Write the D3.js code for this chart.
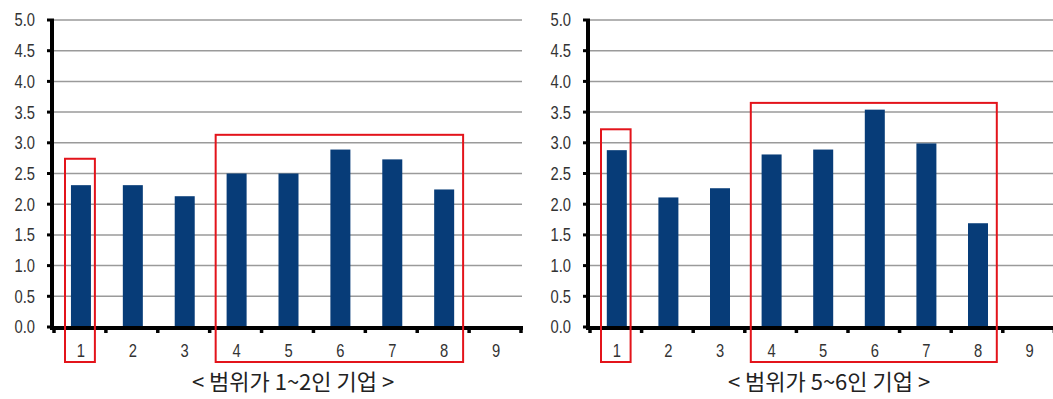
<!DOCTYPE html>
<html>
<head>
<meta charset="utf-8">
<script src="https://cdn.jsdelivr.net/npm/d3@7"></script>
<style>
  body { margin: 0; background: #fff; }
  svg { display: block; }
  .tick-label { font-family: "Liberation Sans", Arial, sans-serif; font-size: 18px; fill: #333; }
  .title { font-family: "Noto Sans CJK KR", sans-serif; font-size: 22px; fill: #222; }
</style>
</head>
<body>
<svg id="chart" width="1053" height="399"></svg>
<script>
// categories on the x axis (1..9)
const categories = ['1', '2', '3', '4', '5', '6', '7', '8', '9'];
const yTicks = [0, 0.5, 1, 1.5, 2, 2.5, 3, 3.5, 4, 4.5, 5];

// 범위가 1~2인 기업
const valuesA = [2.31, 2.31, 2.13, 2.50, 2.50, 2.89, 2.73, 2.24, 0];
// 범위가 5~6인 기업
const valuesB = [2.88, 2.11, 2.26, 2.81, 2.89, 3.54, 2.99, 1.69, 0];

const titleA = '< 범위가 1~2인 기업 >';
const titleB = '< 범위가 5~6인 기업 >';

// red highlight boxes: first / last category and upper value
const boxesA = [{ from: '1', to: '1', top: 2.74 }, { from: '4', to: '8', top: 3.13 }];
const boxesB = [{ from: '1', to: '1', top: 3.22 }, { from: '4', to: '8', top: 3.65 }];

const svg = d3.select('#chart');
const narrow = 0.82; // squeeze labels like the narrow font in the original

function drawPanel(x0, width, values, boxes, title) {
  const top = 20, bottom = 327;
  const g = svg.append('g');

  const x = d3.scaleBand().domain(categories).range([x0, x0 + width]).paddingInner(0).paddingOuter(0);
  const y = d3.scaleLinear().domain([0, 5]).range([bottom, top]);
  const bw = x.bandwidth();
  const barW = 20;

  // gridlines
  g.selectAll('line.grid')
    .data(yTicks.filter(d => d > 0))
    .enter()
    .append('line')
    .attr('x1', x0)
    .attr('x2', x0 + width + 1)
    .attr('y1', d => y(d))
    .attr('y2', d => y(d))
    .attr('stroke', '#9a9a9a')
    .attr('stroke-width', 1.5);

  // bars
  g.selectAll('rect.bar')
    .data(values)
    .enter()
    .append('rect')
    .attr('x', (d, i) => x(categories[i]) + bw / 2 - barW / 2 + 1)
    .attr('y', d => y(d))
    .attr('width', barW)
    .attr('height', d => bottom - y(d))
    .attr('fill', '#073c78');

  // y axis line + ticks
  g.append('line')
    .attr('x1', x0 - 2).attr('x2', x0 - 2)
    .attr('y1', top - 1).attr('y2', bottom + 3)
    .attr('stroke', '#000').attr('stroke-width', 4);
  g.selectAll('line.ytick')
    .data(yTicks)
    .enter()
    .append('line')
    .attr('x1', x0 - 7).attr('x2', x0)
    .attr('y1', d => y(d)).attr('y2', d => y(d))
    .attr('stroke', '#000').attr('stroke-width', 3);
  g.selectAll('text.ylab')
    .data(yTicks)
    .enter()
    .append('text')
    .attr('class', 'tick-label')
    .attr('transform', d => `translate(${x0 - 19},${y(d)}) scale(${narrow},1)`)
    .attr('dy', '0.36em')
    .attr('text-anchor', 'end')
    .text(d => d3.format('.1f')(d));

  // x axis line + ticks at band boundaries
  g.append('line')
    .attr('x1', x0 - 4).attr('x2', x0 + width + 2)
    .attr('y1', bottom + 1).attr('y2', bottom + 1)
    .attr('stroke', '#000').attr('stroke-width', 4);
  const bounds = categories.map(c => x(c)).concat([x0 + width]);
  g.selectAll('line.xtick')
    .data(bounds)
    .enter()
    .append('line')
    .attr('x1', d => d).attr('x2', d => d)
    .attr('y1', bottom).attr('y2', bottom + 6)
    .attr('stroke', '#000').attr('stroke-width', 3.5);
  g.selectAll('text.xlab')
    .data(categories)
    .enter()
    .append('text')
    .attr('class', 'tick-label')
    .attr('transform', d => `translate(${x(d) + bw / 2 + 1},351) scale(${narrow},1)`)
    .attr('dy', '0.36em')
    .attr('text-anchor', 'middle')
    .text(d => d);

  // highlight boxes
  boxes.forEach(b => {
    const inset = b.from === b.to ? 11 : 6;
    const bx1 = x(b.from) + inset;
    const bx2 = x(b.to) + bw - inset;
    g.append('rect')
      .attr('x', bx1)
      .attr('y', y(b.top))
      .attr('width', bx2 - bx1)
      .attr('height', 362 - y(b.top))
      .attr('fill', 'none')
      .attr('stroke', '#e3141b')
      .attr('stroke-width', 2);
  });

  // caption
  g.append('text')
    .attr('class', 'title')
    .attr('x', x0 + 239)
    .attr('y', 382)
    .attr('dy', '0.35em')
    .attr('text-anchor', 'middle')
    .text(title);
}

drawPanel(54, 467, valuesA, boxesA, titleA);
drawPanel(590, 464.4, valuesB, boxesB, titleB);
</script>
</body>
</html>
